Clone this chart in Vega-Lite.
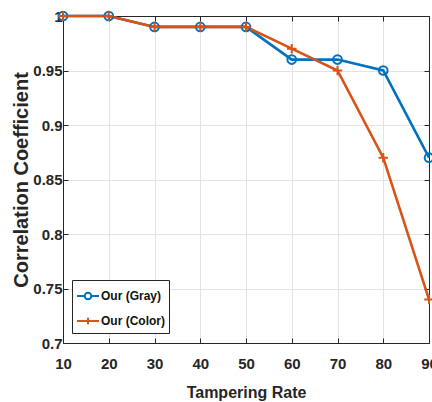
{
  "$schema": "https://vega.github.io/schema/vega-lite/v6.json",
  "width": 366,
  "height": 327,
  "autosize": {"type": "none"},
  "padding": {"left": 63, "top": 16, "right": 3, "bottom": 59},
  "background": "white",
  "config": {
    "view": {"stroke": "#262626", "strokeWidth": 1},
    "font": "Liberation Sans",
    "axis": {
      "labelFont": "Liberation Sans",
      "titleFont": "Liberation Sans",
      "labelFontSize": 15,
      "labelFontWeight": "bold",
      "labelColor": "#262626",
      "titleColor": "#262626",
      "titleFontWeight": "bold",
      "domainColor": "#262626",
      "tickColor": "#262626",
      "gridColor": "#e3e3e3",
      "tickSize": -5
    },
    "legend": {
      "orient": "none", "legendX": 9, "legendY": 264, "title": null,
      "strokeColor": "#262626", "fillColor": "white", "padding": 4,
      "labelFont": "Liberation Sans", "labelFontSize": 12, "labelFontWeight": "bold", "labelColor": "#111",
      "labelOffset": 1, "rowPadding": 5, "cornerRadius": 0
    }
  },
  "data": {"values": [
    {"rate": 10, "corr": 1.0, "series": "Our (Gray)"},
    {"rate": 20, "corr": 1.0, "series": "Our (Gray)"},
    {"rate": 30, "corr": 0.99, "series": "Our (Gray)"},
    {"rate": 40, "corr": 0.99, "series": "Our (Gray)"},
    {"rate": 50, "corr": 0.99, "series": "Our (Gray)"},
    {"rate": 60, "corr": 0.96, "series": "Our (Gray)"},
    {"rate": 70, "corr": 0.96, "series": "Our (Gray)"},
    {"rate": 80, "corr": 0.95, "series": "Our (Gray)"},
    {"rate": 90, "corr": 0.87, "series": "Our (Gray)"},
    {"rate": 10, "corr": 1.0, "series": "Our (Color)"},
    {"rate": 20, "corr": 1.0, "series": "Our (Color)"},
    {"rate": 30, "corr": 0.99, "series": "Our (Color)"},
    {"rate": 40, "corr": 0.99, "series": "Our (Color)"},
    {"rate": 50, "corr": 0.99, "series": "Our (Color)"},
    {"rate": 60, "corr": 0.97, "series": "Our (Color)"},
    {"rate": 70, "corr": 0.95, "series": "Our (Color)"},
    {"rate": 80, "corr": 0.87, "series": "Our (Color)"},
    {"rate": 90, "corr": 0.74, "series": "Our (Color)"}
  ]},
  "resolve": {"axis": {"x": "independent", "y": "independent"}},
  "layer": [
    {
      "mark": {"type": "line", "strokeWidth": 2.6, "clip": false},
      "encoding": {
        "x": {"field": "rate", "type": "quantitative", "scale": {"domain": [10, 90], "nice": false},
              "axis": {"title": "Tampering Rate", "titleFontSize": 16, "values": [10,20,30,40,50,60,70,80,90], "grid": true, "labelFlush": false, "labelPadding": 18, "titlePadding": 13}},
        "y": {"field": "corr", "type": "quantitative", "scale": {"domain": [0.7, 1.0], "nice": false, "zero": false},
              "axis": {"title": "Correlation Coefficient", "titleFontSize": 20, "titleX": -32, "values": [0.7,0.75,0.8,0.85,0.9,0.95,1], "grid": true, "labelExpr": "datum.value == 1 ? '1' : format(datum.value, '.2~f')", "labelPadding": 6}},
        "color": {"field": "series", "type": "nominal", "scale": {"domain": ["Our (Gray)", "Our (Color)"], "range": ["#0072BD", "#D95319"]}},
        "detail": {"field": "series"}
      }
    },
    {
      "transform": [{"filter": "datum.series == 'Our (Gray)'"}],
      "mark": {"type": "point", "shape": "circle", "filled": false, "strokeWidth": 2, "size": 75, "opacity": 1, "clip": false},
      "encoding": {
        "x": {"field": "rate", "type": "quantitative", "axis": {"orient": "top", "labels": false, "title": null, "grid": false, "values": [10,20,30,40,50,60,70,80,90]}},
        "y": {"field": "corr", "type": "quantitative", "axis": {"orient": "right", "labels": false, "title": null, "grid": false, "values": [0.7,0.75,0.8,0.85,0.9,0.95,1]}},
        "color": {"field": "series", "type": "nominal"}
      }
    },
    {
      "transform": [{"filter": "datum.series == 'Our (Color)'"}],
      "mark": {"type": "point", "shape": "M-1,0L1,0M0,-1L0,1", "filled": false, "strokeWidth": 2, "size": 90, "opacity": 1, "clip": false},
      "encoding": {
        "x": {"field": "rate", "type": "quantitative", "axis": null},
        "y": {"field": "corr", "type": "quantitative", "axis": null},
        "color": {"field": "series", "type": "nominal"}
      }
    },
    {
      "mark": {"type": "point", "filled": false, "strokeWidth": 2, "opacity": 0, "size": 1, "clip": false},
      "encoding": {
        "x": {"field": "rate", "type": "quantitative", "axis": null},
        "y": {"field": "corr", "type": "quantitative", "axis": null},
        "color": {"field": "series", "type": "nominal"},
        "shape": {"field": "series", "type": "nominal",
                  "scale": {"domain": ["Our (Gray)", "Our (Color)"], "range": ["M-1,0L-0.3,0M0.3,0L1,0M-0.3,0A0.3,0.3 0 1,0 0.3,0A0.3,0.3 0 1,0 -0.3,0", "M-1,0L1,0M0,-0.3L0,0.3"]},
                  "legend": {"symbolSize": 484, "symbolStrokeWidth": 2, "symbolOpacity": 1}}
      }
    }
  ]
}
